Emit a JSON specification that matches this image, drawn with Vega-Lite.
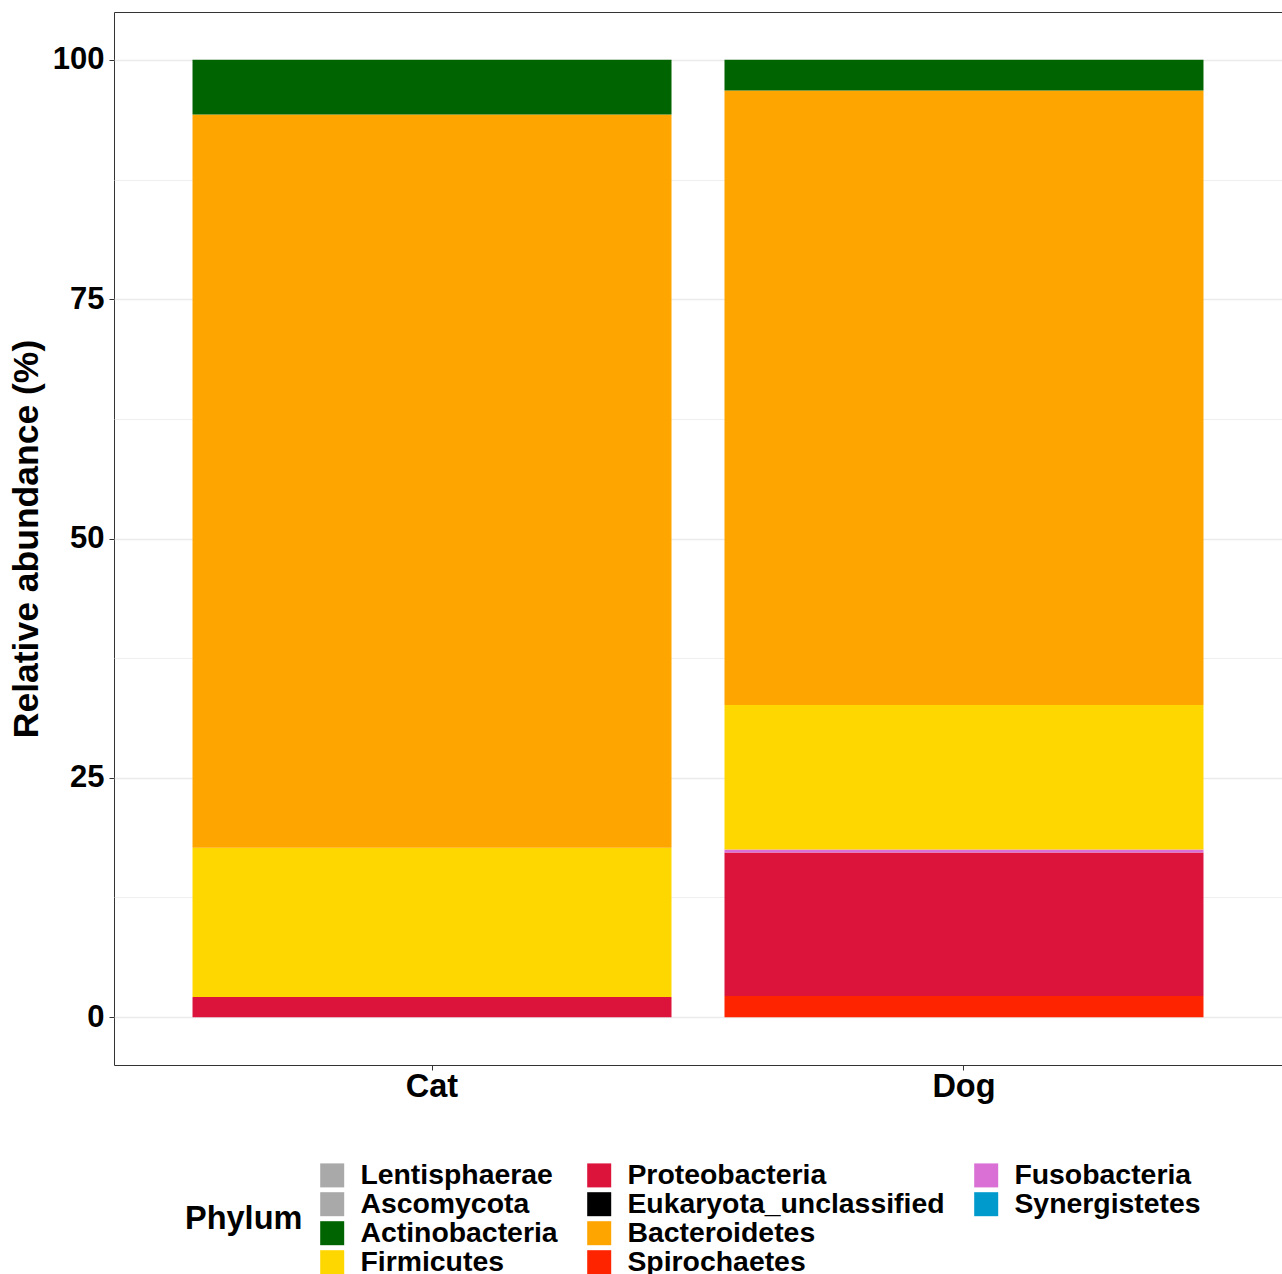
{
  "$schema": "https://vega.github.io/schema/vega-lite/v6.json",
  "width": 1168,
  "height": 1053,
  "autosize": {"type": "none"},
  "padding": {"left": 114, "top": 12, "right": 0, "bottom": 209},
  "background": "white",
  "config": {
    "view": {"stroke": "#333333", "strokeWidth": 1},
    "font": "Liberation Sans"
  },
  "data": {
    "values": [
      {"group": "Cat", "phylum": "Proteobacteria", "abundance": 2.1, "rank": 2},
      {"group": "Cat", "phylum": "Firmicutes", "abundance": 15.6, "rank": 4},
      {"group": "Cat", "phylum": "Bacteroidetes", "abundance": 76.6, "rank": 5},
      {"group": "Cat", "phylum": "Actinobacteria", "abundance": 5.7, "rank": 6},
      {"group": "Dog", "phylum": "Spirochaetes", "abundance": 2.2, "rank": 1},
      {"group": "Dog", "phylum": "Proteobacteria", "abundance": 15.0, "rank": 2},
      {"group": "Dog", "phylum": "Fusobacteria", "abundance": 0.3, "rank": 3},
      {"group": "Dog", "phylum": "Firmicutes", "abundance": 15.1, "rank": 4},
      {"group": "Dog", "phylum": "Bacteroidetes", "abundance": 64.2, "rank": 5},
      {"group": "Dog", "phylum": "Actinobacteria", "abundance": 3.2, "rank": 6}
    ]
  },
  "mark": {"type": "bar"},
  "encoding": {
    "x": {
      "field": "group",
      "type": "nominal",
      "sort": ["Cat", "Dog"],
      "scale": {"paddingInner": 0.0996, "paddingOuter": 0.1476},
      "axis": {
        "title": null,
        "labelAngle": 0,
        "labelFontSize": 32.5,
        "labelFontWeight": "bold",
        "labelColor": "black",
        "labelPadding": 0,
        "tickSize": 5,
        "tickColor": "#333333",
        "domain": false,
        "grid": false
      }
    },
    "y": {
      "field": "abundance",
      "type": "quantitative",
      "stack": "zero",
      "scale": {"domain": [-5, 105], "nice": false, "zero": false},
      "axis": {
        "title": "Relative abundance (%)",
        "titleFontSize": 35.5,
        "titleFontWeight": "bold",
        "titleColor": "black",
        "titlePadding": 8,
        "values": [0, 12.5, 25, 37.5, 50, 62.5, 75, 87.5, 100],
        "labelExpr": "datum.value % 25 === 0 ? datum.label : ''",
        "labelFontSize": 31,
        "labelFontWeight": "bold",
        "labelColor": "black",
        "labelPadding": 5,
        "tickSize": 5,
        "tickColor": "#333333",
        "tickOpacity": {"condition": {"test": "datum.value % 25 === 0", "value": 1}, "value": 0},
        "domain": false,
        "grid": true,
        "gridColor": "#ebebeb",
        "gridWidth": {"condition": {"test": "datum.value % 25 === 0", "value": 1.6}, "value": 0.8}
      }
    },
    "color": {
      "field": "phylum",
      "type": "nominal",
      "scale": {
        "domain": ["Lentisphaerae", "Proteobacteria", "Fusobacteria", "Ascomycota", "Eukaryota_unclassified", "Synergistetes", "Actinobacteria", "Bacteroidetes", " ", "Firmicutes", "Spirochaetes"],
        "range": ["#A9A9A9", "#DC143C", "#DA70D6", "#A9A9A9", "#000000", "#009ACD", "#006400", "#FFA500", "rgba(0,0,0,0)", "#FFD700", "#FF2400"]
      },
      "legend": {
        "title": "Phylum",
        "orient": "none",
        "legendX": 71,
        "legendY": 1149,
        "direction": "horizontal",
        "columns": 3,
        "titleOrient": "left",
        "titleAnchor": "middle",
        "titleBaseline": "middle",
        "titlePadding": 15,
        "titleFontSize": 32.5,
        "titleFontWeight": "bold",
        "titleColor": "black",
        "titleLimit": 1000,
        "labelFontSize": 28.4,
        "labelFontWeight": "bold",
        "labelColor": "black",
        "labelLimit": 1000,
        "labelOffset": 14,
        "symbolType": "square",
        "symbolSize": 576,
        "symbolStrokeWidth": 0,
        "symbolOpacity": 1,
        "rowPadding": 0,
        "columnPadding": 27,
        "padding": 0
      }
    },
    "order": {"field": "rank", "type": "quantitative"}
  }
}
